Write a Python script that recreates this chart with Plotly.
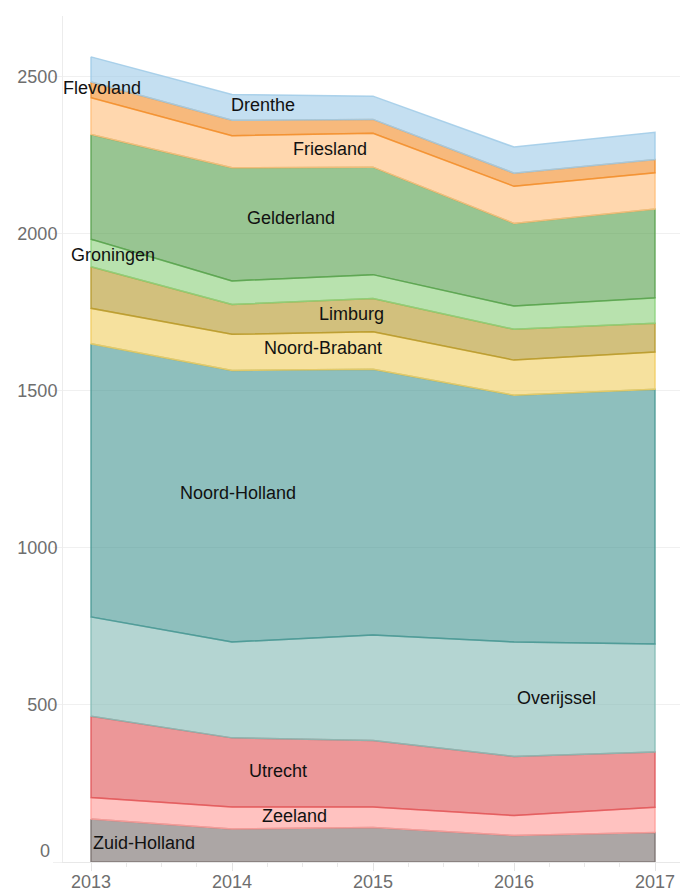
import numpy as np
import plotly.graph_objects as go

years = [2013, 2014, 2015, 2016, 2017]

provinces = ["Drenthe", "Flevoland", "Friesland", "Gelderland", "Groningen", "Limburg",
             "Noord-Brabant", "Noord-Holland", "Overijssel", "Utrecht", "Zeeland", "Zuid-Holland"]

drenthe = [80, 82, 74, 83, 87]
flevoland = [50, 49, 44, 42, 42]
friesland = [117, 102, 108, 118, 115]
gelderland = [333, 360, 342, 263, 283]
groningen = [88, 75, 76, 74, 81]
limburg = [132, 95, 106, 98, 91]
noord_brabant = [113, 115, 119, 112, 119]
noord_holland = [869, 864, 846, 785, 810]
overijssel = [316, 305, 335, 364, 344]
utrecht = [259, 220, 212, 188, 176]
zeeland = [68, 70, 65, 64, 80]
zuid_holland = [137, 105, 110, 84, 94]

series = [drenthe, flevoland, friesland, gelderland, groningen, limburg,
          noord_brabant, noord_holland, overijssel, utrecht, zeeland, zuid_holland]

colors = ["#a0cbe8", "#f28e2b", "#ffbe7d", "#59a14f", "#8cd17d", "#b6992d",
          "#f1ce63", "#499894", "#86bcb6", "#e15759", "#ff9d9a", "#79706e"]

# label placement (x in years, y in data units)
label_pos = {
    "Flevoland": (2013.078, 2464), "Drenthe": (2014.223, 2409), "Friesland": (2014.695, 2269),
    "Gelderland": (2014.418, 2048), "Groningen": (2013.156, 1931), "Limburg": (2014.844, 1743),
    "Noord-Brabant": (2014.645, 1634), "Noord-Holland": (2014.043, 1175),
    "Overijssel": (2016.298, 523), "Utrecht": (2014.323, 290), "Zeeland": (2014.44, 146),
    "Zuid-Holland": (2013.376, 60),
}


def rgba(h, a):
    h = h.lstrip("#")
    r, g, b = int(h[0:2], 16), int(h[2:4], 16), int(h[4:6], 16)
    return f"rgba({r},{g},{b},{a})"


fig = go.Figure()
base = np.zeros(len(years))
# stack from the bottom (last province) to the top (first province)
for name, vals, col in reversed(list(zip(provinces, series, colors))):
    vals = np.array(vals, dtype=float)
    top = base + vals
    xs = list(years) + list(reversed(years)) + [years[0]]
    ys = list(top) + list(reversed(base)) + [top[0]]
    fig.add_trace(go.Scatter(
        x=xs, y=ys, mode="lines", fill="toself",
        fillcolor=rgba(col, 0.62), line=dict(color=rgba(col, 0.85), width=1.5),
        name=name, showlegend=False, hoveron="fills",
    ))
    base = top

font_family = "Liberation Sans, Arial, sans-serif"
annotations = []
for name in provinces:
    x, y = label_pos[name]
    annotations.append(dict(x=x, y=y, xref="x", yref="y", text=name, showarrow=False,
                            font=dict(family=font_family, size=18, color="#111111"),
                            xanchor="center", yanchor="middle"))
# zero label sits flush above the baseline
annotations.append(dict(x=0, y=0, xref="paper", yref="y", text="0", showarrow=False,
                        xanchor="right", yanchor="middle", xshift=-11, yshift=11,
                        font=dict(family=font_family, size=18, color="#6e6e6e")))

ytickvals = [0, 500, 1000, 1500, 2000, 2500]
yticktext = ["", "500", "1000", "1500", "2000", "2500"]

# page body has an 8px margin, so the figure is sized and placed to compensate
fig.update_layout(
    width=680, height=885,
    margin=dict(l=55, r=3, t=8, b=31, autoexpand=False),
    paper_bgcolor="white", plot_bgcolor="white",
    font=dict(family=font_family, size=18, color="#6e6e6e"),
    annotations=annotations,
    xaxis=dict(
        range=[2013 - 28 / 141, 2017 + 30 / 141],
        tickvals=years, ticktext=[str(y) for y in years],
        showgrid=False, zeroline=False, automargin=False,
        showline=True, linecolor="#e8e8e8", linewidth=1,
        ticks="outside", ticklen=8, tickcolor="#e3e3e3", tickwidth=1,
        minor=dict(ticks="outside", ticklen=4, dtick=0.25, tick0=2013,
                   tickcolor="#e8e8e8", showgrid=False),
        tickfont=dict(size=18, color="#6e6e6e"),
        ticklabelstandoff=-5,
    ),
    yaxis=dict(
        range=[0, 2692],
        tickvals=ytickvals, ticktext=yticktext,
        showgrid=True, gridcolor="#f0f0f0", gridwidth=1, zeroline=False, automargin=False,
        showline=True, linecolor="#ececec", linewidth=1,
        ticks="outside", ticklen=9, tickcolor="#f0f0f0",
        tickfont=dict(size=18, color="#6e6e6e"),
        ticklabelstandoff=-8,
    ),
)

fig.write_html("out.html")
